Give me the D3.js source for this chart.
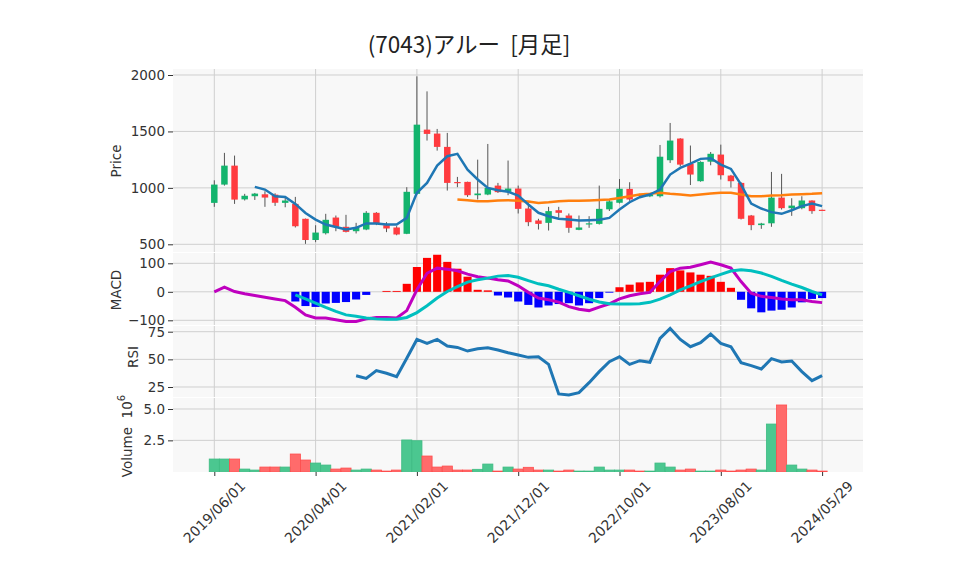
<!DOCTYPE html>
<html><head><meta charset="utf-8">
<script src="https://cdn.jsdelivr.net/npm/d3@7"></script>
<style>
html,body{margin:0;padding:0;background:#fff;}
svg{display:block;}
.tick text{font-family:"DejaVu Sans",sans-serif;font-size:13.5px;fill:#333;}
</style></head>
<body><svg id="c" width="958" height="575"></svg>
<script>
// ---------- DATA ----------
const title = "(7043)アルー  [月足]";
const xTickIdx = [0, 10, 20, 30, 40, 50, 60];
const xTickLabels = ["2019/06/01","2020/04/01","2021/02/01","2021/12/01","2022/10/01","2023/08/01","2024/05/29"];
const opens  = [867,1029,1197,898,926,943,940,867,858,726,538,598,737,655,616,631,779,670,649,593,947,1516,1481,1363,1052,1053,935,941,1020,965,994,817,711,690,802,755,628,680,681,810,868,991,940,925,926,1245,1437,1212,1059,1232,1295,1109,1044,755,670,686,914,820,820,888,806];
const highs  = [1067,1310,1286,947,955,970,952,920,920,728,669,770,755,761,690,794,785,696,661,1006,1988,1855,1522,1487,1097,1055,1250,1389,1044,1242,1020,873,726,832,832,773,755,749,1020,900,1078,1050,948,945,1380,1575,1440,1375,1235,1318,1383,1115,1050,760,690,1141,1124,908,926,890,806];
const lows   = [832,1020,858,888,893,832,840,828,649,504,519,587,616,605,596,625,670,608,580,590,940,1419,1330,976,1006,920,897,935,955,935,773,661,631,622,735,602,625,646,675,795,862,885,925,918,915,1221,1190,1025,1055,1200,1074,1003,720,625,637,655,808,752,810,770,803];
const closes = [1029,1197,896,930,949,914,868,888,660,538,604,717,655,610,652,779,681,640,587,965,1560,1478,1363,1044,1045,935,950,1000,962,994,814,696,681,794,779,646,649,686,814,880,992,897,930,940,1276,1419,1206,1118,1230,1302,1112,1059,726,670,684,914,820,843,888,794,803];
const volumes = [1.01,1.01,1.01,0.21,0.13,0.37,0.37,0.37,1.41,0.93,0.69,0.53,0.21,0.29,0.13,0.21,0.13,0.05,0.13,2.53,2.47,1.25,0.37,0.45,0.13,0.13,0.19,0.61,0.05,0.37,0.21,0.35,0.13,0.13,0.05,0.13,0.05,0.05,0.37,0.13,0.13,0.13,0.05,0.05,0.69,0.37,0.13,0.21,0.05,0.05,0.13,0.05,0.13,0.21,0.13,3.80,5.32,0.53,0.21,0.13,0.05];
// moving averages
const ma5Start = 4;
const ma5 = [1009,985,926,920,858,778,719,675,654,631,646,685,684,675,675,734,956,1044,1198,1280,1301,1162,1074,1000,979,965,932,853,779,749,726,720,711,714,717,734,808,873,917,941,985,1118,1177,1215,1257,1263,1206,1168,1029,861,817,785,770,802,838,861,838];
const ma25Start = 24;
const ma25 = [897,891,882,882,888,891,885,879,867,873,882,885,885,888,892,897,911,926,941,947,956,947,941,932,941,950,956,956,941,926,926,932,935,941,944,947,953];
// MACD
const macdLine = [0,16,1,-7,-13,-19,-25,-31,-54,-81,-92,-92,-98,-104,-104,-95,-90,-90,-92,-66,7,65,83,79,74,62,53,48,42,38,21,-2,-22,-28,-36,-52,-61,-66,-54,-42,-25,-14,-7,-2,36,71,83,86,95,104,95,83,36,-5,-16,-20,-25,-28,-28,-34,-38];
const signalStart = 8;
const signalLine = [-11,-25,-40,-55,-69,-81,-86,-92,-95,-96,-96,-90,-73,-49,-22,1,18,34,42,48,55,57,51,39,28,21,9,-2,-14,-26,-36,-42,-43,-43,-42,-37,-26,-11,7,21,36,49,61,73,77,74,66,54,40,27,15,1,-11];
const histStart = 8;
const hist = [-34,-50,-53,-41,-39,-36,-27,-11,0,3,3,28,87,119,130,105,81,53,7,5,-13,-20,-34,-46,-55,-48,-43,-40,-48,-40,-22,-3,16,25,33,35,60,83,75,68,60,56,35,14,-28,-58,-72,-66,-63,-55,-37,-25,-22];
// RSI
const rsiStart = 14;
const rsi = [35.2,32.8,39.8,37.4,34.3,51,68,64.4,68,62,60.8,57.5,59.5,60.5,58.4,56,53.9,51.8,52.4,45.5,18.7,17.8,19.9,28.9,38.9,47.9,52.4,45.5,48.8,47.3,69,78,68,61.4,65,72.9,64.4,61.4,47,44.3,41.3,50.6,47.6,48.5,38.9,30.7,35.2];
const priceTicks = [500,1000,1500,2000];
const macdTicks = [-100,0,100];
const rsiTicks = [25,50,75];
const volTicks = [2.5,5.0];

// ---------- CHART ----------
const svg = d3.select("#c");
const L = 173, R = 863;
const n = closes.length;
const x = d3.scaleLinear().domain([0, 60]).range([214.3, 822.1]);
const step = x(1) - x(0);

const panels = {
  price: {top: 69, bot: 252, y: d3.scaleLinear().domain([500, 2000]).range([244.3, 75])},
  macd:  {top: 253, bot: 325, y: d3.scaleLinear().domain([-100, 100]).range([320.3, 263.3])},
  rsi:   {top: 326, bot: 397, y: d3.scaleLinear().domain([25, 75]).range([387, 331.7])},
  vol:   {top: 398, bot: 472, y: d3.scaleLinear().domain([0, 5]).range([471.7, 409])}
};
const defs = svg.append("defs");
Object.entries(panels).forEach(([k, p]) => {
  svg.append("rect").attr("x", L).attr("y", p.top).attr("width", R - L).attr("height", p.bot - p.top).attr("fill", "#f8f8f8");
  defs.append("clipPath").attr("id", "clip-" + k).append("rect")
    .attr("x", L).attr("y", p.top).attr("width", R - L).attr("height", p.bot - p.top);
});

function grid(p, ticks) {
  const g = svg.append("g");
  g.selectAll("line.h").data(ticks).join("line")
    .attr("x1", L).attr("x2", R).attr("y1", d => p.y(d)).attr("y2", d => p.y(d))
    .attr("stroke", "#cfcfcf").attr("stroke-width", 1);
  g.selectAll("line.v").data(xTickIdx).join("line")
    .attr("x1", d => x(d)).attr("x2", d => x(d)).attr("y1", p.top).attr("y2", p.bot)
    .attr("stroke", "#cfcfcf").attr("stroke-width", 1);
}
function yAxis(p, ticks, fmt) {
  const g = svg.append("g").attr("transform", `translate(${L},0)`)
    .call(d3.axisLeft(p.y).tickValues(ticks).tickSize(5).tickPadding(3).tickFormat(fmt));
  g.select(".domain").remove();
  g.selectAll(".tick line").attr("stroke", "#333");
}
grid(panels.price, priceTicks);
grid(panels.macd, macdTicks);
grid(panels.rsi, rsiTicks);
grid(panels.vol, volTicks);

const minus = d => (d < 0 ? "\u2212" + Math.abs(d) : String(d));
yAxis(panels.price, priceTicks, d => String(d));
yAxis(panels.macd, macdTicks, minus);
yAxis(panels.rsi, rsiTicks, d => String(d));
yAxis(panels.vol, volTicks, d3.format(".1f"));

// x axis
const xa = svg.append("g").attr("transform", `translate(0,${panels.vol.bot})`)
  .call(d3.axisBottom(x).tickValues(xTickIdx).tickSize(4).tickFormat(""));
xa.select(".domain").remove();
xa.selectAll(".tick line").attr("stroke", "#333");
svg.append("g").selectAll("text").data(xTickIdx).join("text")
  .attr("transform", d => `translate(${x(d)},${512}) rotate(-45)`)
  .attr("text-anchor", "middle").attr("dominant-baseline", "central")
  .attr("font-family", "DejaVu Sans, sans-serif").attr("font-size", 14).attr("fill", "#333")
  .text((d, i) => xTickLabels[i]);

// candles
const up = "#13b46d", dn = "#ff3b3f";
const idx = d3.range(n);
const cg = svg.append("g").attr("clip-path", "url(#clip-price)");
const py = panels.price.y;
cg.selectAll("line.w").data(idx).join("line")
  .attr("x1", i => x(i)).attr("x2", i => x(i))
  .attr("y1", i => py(highs[i])).attr("y2", i => py(lows[i]))
  .attr("stroke", "#555").attr("stroke-width", 1);
const bw = step * 0.64;
cg.selectAll("rect.b").data(idx).join("rect")
  .attr("x", i => x(i) - bw / 2).attr("width", bw)
  .attr("y", i => py(Math.max(opens[i], closes[i])))
  .attr("height", i => Math.max(1.2, Math.abs(py(opens[i]) - py(closes[i]))))
  .attr("fill", i => closes[i] >= opens[i] ? up : dn);

// moving averages
const line = d3.line().x(d => x(d[0])).y(d => py(d[1]));
cg.append("path").datum(ma25.map((v, k) => [k + ma25Start, v]))
  .attr("d", line).attr("fill", "none").attr("stroke", "#ff7f0e").attr("stroke-width", 2.5);
cg.append("path").datum(ma5.map((v, k) => [k + ma5Start, v]))
  .attr("d", line).attr("fill", "none").attr("stroke", "#1f77b4").attr("stroke-width", 2.5);

// MACD
const my = panels.macd.y;
const mg = svg.append("g").attr("clip-path", "url(#clip-macd)");
mg.selectAll("rect").data(hist.map((v, k) => [k + histStart, v])).join("rect")
  .attr("x", d => x(d[0]) - step * 0.4).attr("width", step * 0.8)
  .attr("y", d => my(Math.max(0, d[1]))).attr("height", d => Math.abs(my(d[1]) - my(0)))
  .attr("fill", d => d[1] >= 0 ? "#ff0000" : "#0000ff");
const mline = d3.line().x(d => x(d[0])).y(d => my(d[1]));
mg.append("path").datum(macdLine.map((v, k) => [k, v]))
  .attr("d", mline).attr("fill", "none").attr("stroke", "#bf00bf").attr("stroke-width", 3);
mg.append("path").datum(signalLine.map((v, k) => [k + signalStart, v]))
  .attr("d", mline).attr("fill", "none").attr("stroke", "#00bfbf").attr("stroke-width", 3);

// RSI
const ry = panels.rsi.y;
svg.append("g").attr("clip-path", "url(#clip-rsi)").append("path")
  .datum(rsi.map((v, k) => [k + rsiStart, v]))
  .attr("d", d3.line().x(d => x(d[0])).y(d => ry(d[1])))
  .attr("fill", "none").attr("stroke", "#1f77b4").attr("stroke-width", 3);

// Volume
const vy = panels.vol.y;
svg.append("g").attr("clip-path", "url(#clip-vol)").selectAll("rect").data(idx).join("rect")
  .attr("x", i => x(i) - step / 2).attr("width", step)
  .attr("y", i => vy(volumes[i])).attr("height", i => vy(0) - vy(volumes[i]))
  .attr("fill", i => closes[i] >= opens[i] ? "#4bc790" : "#ff6b6b")
  .attr("stroke", i => closes[i] >= opens[i] ? "#3dbb82" : "#ff4d4d").attr("stroke-width", 0.8);

// labels
function ylab(txt, cx, cy) {
  return svg.append("text").attr("transform", `translate(${cx},${cy}) rotate(-90)`)
    .attr("text-anchor", "middle").attr("dominant-baseline", "central")
    .attr("font-family", "DejaVu Sans, sans-serif").attr("font-size", 13.5).attr("fill", "#333")
    .style("white-space", "pre").text(txt);
}
ylab("Price", 116, 161);
ylab("MACD", 116, 290);
ylab("RSI", 133, 357);
const vl = ylab("Volume  ", 127, 436);
vl.append("tspan").text("10");
vl.append("tspan").attr("baseline-shift", "super").attr("font-size", 10).text("6");

svg.append("text").attr("x", 469).attr("y", 53).attr("text-anchor", "middle")
  .attr("font-family", "Noto Sans CJK JP, sans-serif").attr("font-size", 22.5).attr("fill", "#222")
  .style("white-space", "pre")
  .text(title);
</script></body></html>
